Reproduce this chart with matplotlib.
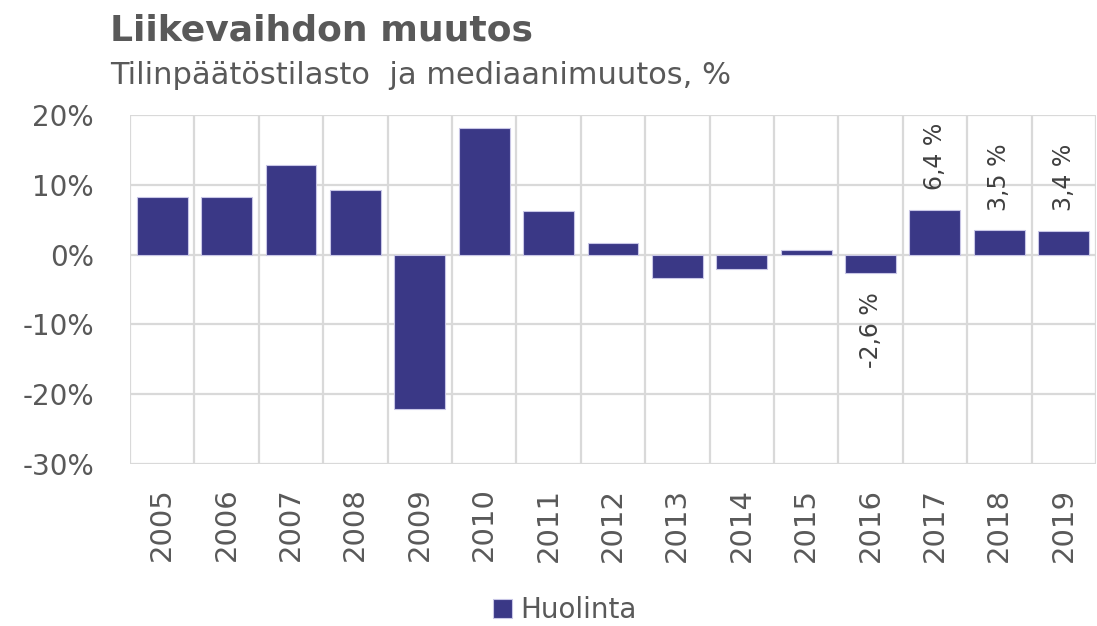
import matplotlib.pyplot as plt
import numpy as np

YEARS = ['2005', '2006', '2007', '2008', '2009', '2010', '2011', '2012',
         '2013', '2014', '2015', '2016', '2017', '2018', '2019']
CHANGE = [8.2, 8.2, 12.8, 9.2, -22.1, 18.1, 6.2, 1.6,
          -3.3, -2.0, 0.6, -2.6, 6.4, 3.5, 3.4]
LABELED = ['2016', '2017', '2018', '2019']
LABELS = ['-2,6 %', '6,4 %', '3,5 %', '3,4 %']
YTICKS = [-30, -20, -10, 0, 10, 20]

BAR = '#3a3886'
GRID = '#d9d9d9'
TXT = '#595959'

fig = plt.figure(figsize=(10.97, 6.26), dpi=100)
ax = fig.add_axes([0.1185, 0.2588, 0.8805, 0.5575])

x = np.arange(len(YEARS))
ax.bar(x, CHANGE, width=0.79, color=BAR, edgecolor='#c8c6e6', linewidth=0.8,
       zorder=3, label='Huolinta')

for year, lab in zip(LABELED, LABELS):
    i = YEARS.index(year)
    v = CHANGE[i]
    if v >= 0:
        ax.annotate(lab, (i, v), xytext=(0, 14), textcoords='offset points',
                    rotation=90, ha='center', va='bottom', fontsize=17,
                    color='#404040')
    else:
        ax.annotate(lab, (i, v), xytext=(0, -14), textcoords='offset points',
                    rotation=90, ha='center', va='top', fontsize=17,
                    color='#404040')

ax.set_xlim(-0.5, len(YEARS) - 0.5)
ax.set_ylim(-30, 20)
ax.set_yticks(YTICKS)
ax.set_yticklabels([f'{t}%' for t in YTICKS])
ax.set_xticks(x)
ax.set_xticklabels(YEARS, rotation=90)
ax.set_xticks(np.arange(len(YEARS) + 1) - 0.5, minor=True)

ax.tick_params(axis='y', length=0, pad=26, labelsize=20, labelcolor=TXT)
ax.tick_params(axis='x', which='major', length=0, pad=17, labelsize=21,
               labelcolor=TXT)
ax.tick_params(axis='x', which='minor', length=0)
ax.grid(axis='y', color=GRID, linewidth=1.6, zorder=0)
ax.grid(axis='x', which='minor', color=GRID, linewidth=1.6, zorder=0)
for s in ax.spines.values():
    s.set_visible(False)

fig.text(0.1, 0.952, 'Liikevaihdon muutos', fontsize=26, fontweight='bold',
         color=TXT, va='center')
fig.text(0.1, 0.88, 'Tilinpäätöstilasto  ja mediaanimuutos, %', fontsize=22,
         color=TXT, va='center')

fig.legend(loc='center', bbox_to_anchor=(0.515, 0.025), frameon=False,
           fontsize=20, handlelength=0.7, handleheight=0.7, handletextpad=0.3,
           labelcolor=TXT)

fig.savefig('out.png', dpi=100)
